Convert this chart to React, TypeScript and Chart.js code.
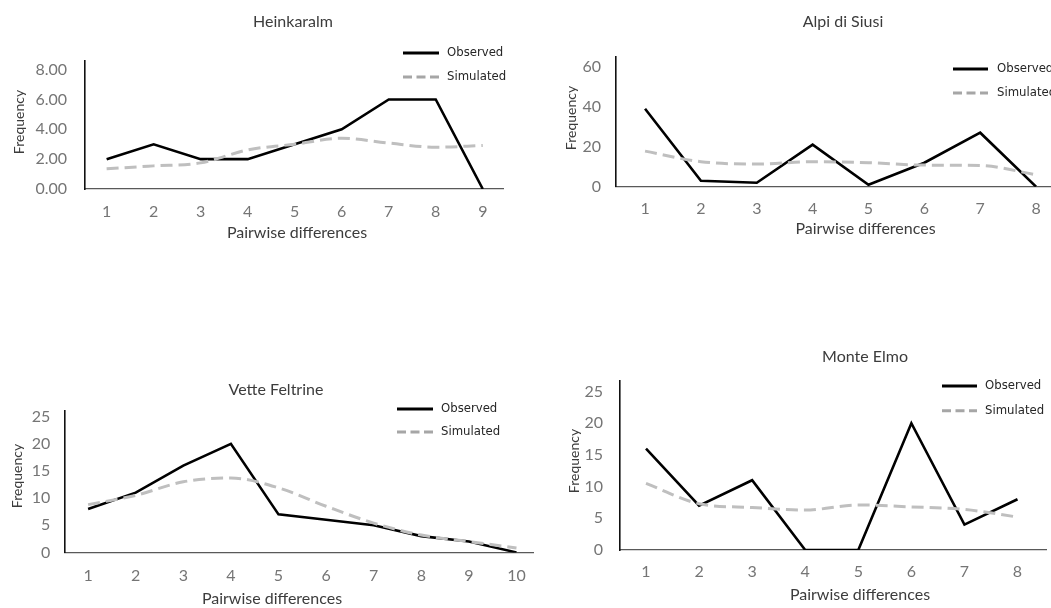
import React, { useEffect, useRef } from "react";
import { Chart, registerables } from "chart.js";

Chart.register(...registerables);

// ---------- DATA ----------
const seriesNames = ["Observed", "Simulated"];
const xAxisTitle = "Pairwise differences";
const yAxisTitle = "Frequency";

const heinkaralmCategories = [1, 2, 3, 4, 5, 6, 7, 8, 9];
const heinkaralmObserved = [2, 3, 2, 2, 3, 4, 6, 6, 0];
const heinkaralmSimulated = [1.35, 1.55, 1.75, 2.62, 3.0, 3.4, 3.08, 2.8, 2.92];
const heinkaralmTicks = [0, 2, 4, 6, 8];

const alpiCategories = [1, 2, 3, 4, 5, 6, 7, 8];
const alpiObserved = [39, 3, 2, 21, 1, 12, 27, 0];
const alpiSimulated = [17.8, 12.5, 11.3, 12.5, 12, 10.8, 10.6, 6.0];
const alpiTicks = [0, 20, 40, 60];

const vetteCategories = [1, 2, 3, 4, 5, 6, 7, 8, 9, 10];
const vetteObserved = [8, 11, 16, 20, 7, 6, 5, 3, 2, 0];
const vetteSimulated = [8.8, 10.5, 13.0, 13.7, 11.9, 8.5, 5.4, 3.2, 2.0, 0.8];
const vetteTicks = [0, 5, 10, 15, 20, 25];

const elmoCategories = [1, 2, 3, 4, 5, 6, 7, 8];
const elmoObserved = [16, 7, 11, 0, 0, 20, 4, 8];
const elmoSimulated = [10.5, 7.3, 6.7, 6.3, 7.1, 6.8, 6.4, 5.2];
const elmoTicks = [0, 5, 10, 15, 20, 25];

// ---------- LAYOUT / STYLE ----------
const FONT = "Lato, 'Open Sans', sans-serif";
const LEGEND_FONT = "'Liberation Sans Narrow', 'DejaVu Sans Condensed', sans-serif";
const TICK_COLOR = "#757575";
const TEXT_COLOR = "#3c3c3c";
const OBS_COLOR = "#000000";
const SIM_COLOR = "#bfbfbf";
const SIM_LEGEND_COLOR = "#a6a6a6";

type Panel = {
  title: string;
  categories: number[];
  observed: number[];
  simulated: number[];
  yTicks: number[];
  decimals: number;
  yMax: number;
  xMin: number;
  xMax: number;
  canvas: { x: number; y: number; w: number; h: number };
  area: { l: number; t: number; r: number; b: number };
  yPad: number;
  xPad: number;
  titlePos: [number, number];
  xTitlePos: [number, number];
  yTitlePos: [number, number];
  legend: { x1: number; x2: number; tx: number; y1: number; y2: number };
};

const panels: Panel[] = [
  {
    title: "Heinkaralm",
    categories: heinkaralmCategories,
    observed: heinkaralmObserved,
    simulated: heinkaralmSimulated,
    yTicks: heinkaralmTicks,
    decimals: 2,
    yMax: 8.6,
    xMin: 0.54,
    xMax: 9.43,
    canvas: { x: 0, y: 0, w: 525, h: 300 },
    area: { l: 85, t: 60.7, r: 503, b: 189 },
    yPad: 18,
    xPad: 13,
    titlePos: [293, 22],
    xTitlePos: [297, 233],
    yTitlePos: [19, 122],
    legend: { x1: 403, x2: 439, tx: 447, y1: 53, y2: 77 },
  },
  {
    title: "Alpi di Siusi",
    categories: alpiCategories,
    observed: alpiObserved,
    simulated: alpiSimulated,
    yTicks: alpiTicks,
    decimals: 0,
    yMax: 64.85,
    xMin: 0.48,
    xMax: 8.5,
    canvas: { x: 525, y: 0, w: 565, h: 300 },
    area: { l: 616, t: 57, r: 1064, b: 186.7 },
    yPad: 15,
    xPad: 13,
    titlePos: [843, 22],
    xTitlePos: [865.5, 229],
    yTitlePos: [571, 118],
    legend: { x1: 953, x2: 988, tx: 997, y1: 69, y2: 93 },
  },
  {
    title: "Vette Feltrine",
    categories: vetteCategories,
    observed: vetteObserved,
    simulated: vetteSimulated,
    yTicks: vetteTicks,
    decimals: 0,
    yMax: 26.1,
    xMin: 0.5,
    xMax: 10.35,
    canvas: { x: 0, y: 330, w: 540, h: 278 },
    area: { l: 64.3, t: 410.7, r: 533.3, b: 552.4 },
    yPad: 14,
    xPad: 14,
    titlePos: [276, 390],
    xTitlePos: [272, 599],
    yTitlePos: [17.5, 476],
    legend: { x1: 397, x2: 433, tx: 441, y1: 409, y2: 432 },
  },
  {
    title: "Monte Elmo",
    categories: elmoCategories,
    observed: elmoObserved,
    simulated: elmoSimulated,
    yTicks: elmoTicks,
    decimals: 0,
    yMax: 26.7,
    xMin: 0.51,
    xMax: 8.55,
    canvas: { x: 540, y: 330, w: 511, h: 278 },
    area: { l: 620, t: 380.7, r: 1046.7, b: 550 },
    yPad: 17,
    xPad: 12,
    titlePos: [865, 357],
    xTitlePos: [860, 595],
    yTitlePos: [574, 461],
    legend: { x1: 942, x2: 977, tx: 985, y1: 386, y2: 410.7 },
  },
];

function makeOverlay(p: Panel) {
  return {
    id: "overlay",
    afterDraw(chart: any) {
      const ctx = chart.ctx as CanvasRenderingContext2D;
      const ox = p.canvas.x;
      const oy = p.canvas.y;
      ctx.save();
      ctx.fillStyle = TEXT_COLOR;
      ctx.textAlign = "center";
      ctx.textBaseline = "middle";
      ctx.font = `16px ${FONT}`;
      ctx.fillText(p.title, p.titlePos[0] - ox, p.titlePos[1] - oy);
      ctx.fillText(xAxisTitle, p.xTitlePos[0] - ox, p.xTitlePos[1] - oy);
      ctx.save();
      ctx.translate(p.yTitlePos[0] - ox, p.yTitlePos[1] - oy);
      ctx.rotate(-Math.PI / 2);
      ctx.font = `14px ${FONT}`;
      ctx.fillText(yAxisTitle, 0, 0);
      ctx.restore();

      // legend
      const L = p.legend;
      ctx.lineWidth = 3;
      ctx.strokeStyle = OBS_COLOR;
      ctx.setLineDash([]);
      ctx.beginPath();
      ctx.moveTo(L.x1 - ox, L.y1 - oy);
      ctx.lineTo(L.x2 - ox, L.y1 - oy);
      ctx.stroke();
      ctx.strokeStyle = SIM_LEGEND_COLOR;
      ctx.setLineDash([9, 4.5]);
      ctx.beginPath();
      ctx.moveTo(L.x1 - ox, L.y2 - oy);
      ctx.lineTo(L.x2 - ox, L.y2 - oy);
      ctx.stroke();
      ctx.setLineDash([]);
      ctx.fillStyle = "#262626";
      ctx.textAlign = "left";
      ctx.font = `13px ${LEGEND_FONT}`;
      ctx.fillText(seriesNames[0], L.tx - ox, L.y1 - oy);
      ctx.fillText(seriesNames[1], L.tx - ox, L.y2 - oy);
      ctx.restore();
    },
  };
}

function ChartPanel({ p }: { p: Panel }) {
  const ref = useRef<HTMLCanvasElement | null>(null);
  useEffect(() => {
    if (!ref.current) return;
    const padTop = p.area.t - p.canvas.y;
    const padRight = p.canvas.x + p.canvas.w - p.area.r;
    const yw = p.area.l - p.canvas.x;
    const xh = p.canvas.y + p.canvas.h - p.area.b;
    const chart = new Chart(ref.current, {
      type: "line",
      data: {
        datasets: [
          {
            label: seriesNames[0],
            data: p.categories.map((c, i) => ({ x: c, y: p.observed[i] })),
            borderColor: OBS_COLOR,
            borderWidth: 2.6,
            pointRadius: 0,
            tension: 0,
            fill: false,
            order: 1,
          },
          {
            label: seriesNames[1],
            data: p.categories.map((c, i) => ({ x: c, y: p.simulated[i] })),
            borderColor: SIM_COLOR,
            borderWidth: 3,
            borderDash: [12, 6],
            pointRadius: 0,
            tension: 0.4,
            cubicInterpolationMode: "monotone",
            fill: false,
            order: 0,
          },
        ],
      },
      options: {
        animation: false,
        responsive: false,
        events: [],
        layout: { padding: { top: padTop, right: padRight, left: 0, bottom: 0 } },
        plugins: {
          legend: { display: false },
          tooltip: { enabled: false },
          title: { display: false },
        },
        scales: {
          x: {
            type: "linear",
            min: p.xMin,
            max: p.xMax,
            afterBuildTicks: (s: any) => {
              s.ticks = p.categories.map((v) => ({ value: v }));
            },
            afterFit: (s: any) => {
              s.height = xh;
            },
            grid: { display: false, drawTicks: false },
            border: { display: true, color: "#595959", width: 1.2 },
            ticks: {
              padding: p.xPad,
              color: TICK_COLOR,
              font: { family: FONT, size: 16 },
              autoSkip: false,
              maxRotation: 0,
              callback: (v: any) => String(v),
            },
          },
          y: {
            type: "linear",
            min: 0,
            max: p.yMax,
            afterBuildTicks: (s: any) => {
              s.ticks = p.yTicks.map((v) => ({ value: v }));
            },
            afterFit: (s: any) => {
              s.width = yw;
            },
            grid: { display: false, drawTicks: false },
            border: { display: true, color: "#111111", width: 1.6 },
            ticks: {
              padding: p.yPad,
              color: TICK_COLOR,
              font: { family: FONT, size: 16 },
              callback: (v: any) => Number(v).toFixed(p.decimals),
            },
          },
        },
      } as any,
      plugins: [makeOverlay(p)],
    });
    return () => chart.destroy();
  }, [p]);
  return (
    <canvas
      ref={ref}
      width={p.canvas.w}
      height={p.canvas.h}
      style={{
        position: "absolute",
        left: p.canvas.x,
        top: p.canvas.y,
        width: p.canvas.w,
        height: p.canvas.h,
      }}
    />
  );
}

export default function App() {
  return (
    <div
      style={{
        position: "fixed",
        left: 0,
        top: 0,
        width: 1051,
        height: 608,
        overflow: "hidden",
        background: "#ffffff",
      }}
    >
      {panels.map((p) => (
        <ChartPanel key={p.title} p={p} />
      ))}
    </div>
  );
}
